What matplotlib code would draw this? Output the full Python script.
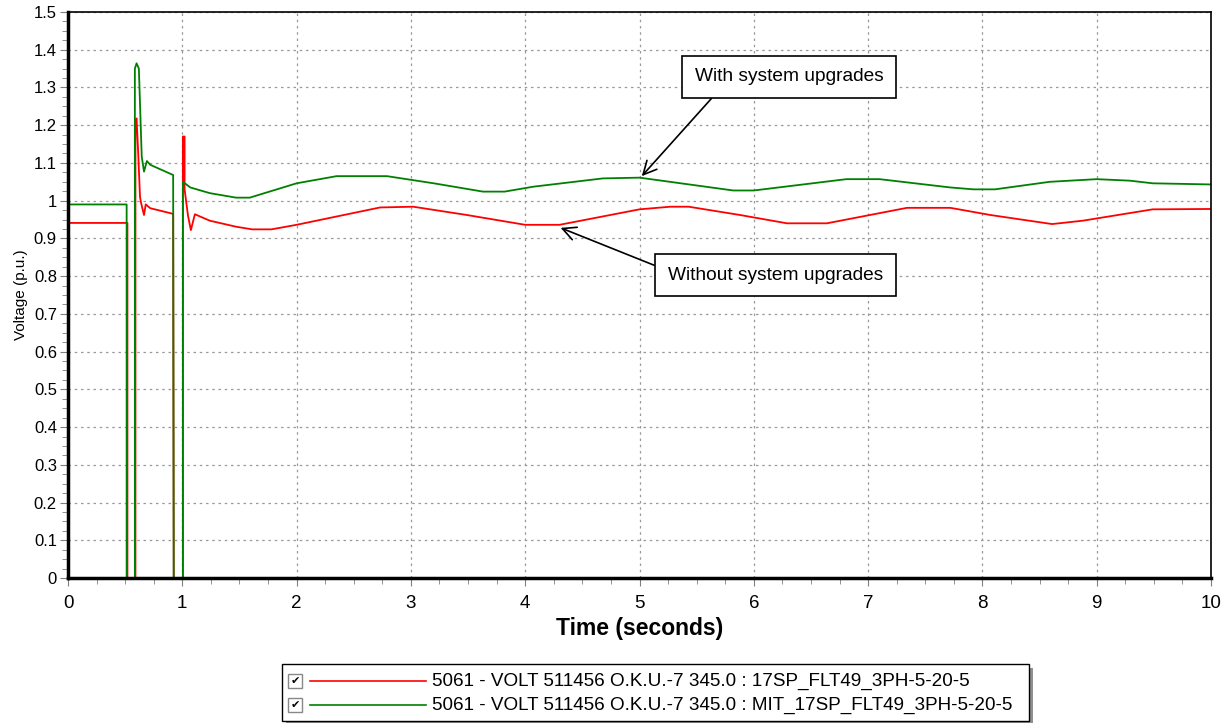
import matplotlib
matplotlib.use("Agg")
import matplotlib.pyplot as plt
from matplotlib.patches import Rectangle
from matplotlib.ticker import MultipleLocator

plt.rcParams['font.family'] = ['Liberation Sans', 'DejaVu Sans']

# Voltage traces (time in s, voltage in p.u.)
t_red = [0, 0.52, 0.52, 0.59, 0.59, 0.60, 0.615, 0.63, 0.64, 0.665, 0.68, 0.72, 0.92,
         0.925, 1.005, 1.005, 1.02, 1.02, 1.05, 1.075, 1.11, 1.24, 1.47, 1.61, 1.78,
         2.0, 2.73, 3.02, 3.49, 4.0, 4.3, 5.0, 5.27, 5.43, 5.88, 6.29, 6.64, 7.34,
         7.72, 8.07, 8.61, 8.88, 9.49, 10.0]
v_red = [0.941, 0.941, 0, 0, 1.21, 1.218, 1.12, 1.01, 0.993, 0.962, 0.990, 0.98, 0.965,
         0, 0, 1.17, 1.17, 1.03, 0.96, 0.922, 0.964, 0.947, 0.931, 0.924, 0.924,
         0.936, 0.982, 0.984, 0.962, 0.936, 0.936, 0.977, 0.984, 0.984, 0.962, 0.940,
         0.940, 0.981, 0.981, 0.962, 0.938, 0.947, 0.977, 0.978]

t_green = [0, 0.513, 0.513, 0.585, 0.585, 0.60, 0.62, 0.645, 0.665, 0.69, 0.72, 0.92,
           0.925, 1.005, 1.005, 1.07, 1.24, 1.47, 1.59, 2.0, 2.35, 2.79, 3.2, 3.63,
           3.82, 4.07, 4.68, 5.0, 5.82, 6.0, 6.81, 7.1, 7.72, 7.92, 8.11, 8.59, 9.0,
           9.29, 9.49, 10.0]
v_green = [0.99, 0.99, 0, 0, 1.35, 1.364, 1.35, 1.117, 1.077, 1.105, 1.095, 1.068,
           0, 0, 1.05, 1.035, 1.02, 1.008, 1.008, 1.046, 1.065, 1.065, 1.046, 1.024,
           1.024, 1.037, 1.059, 1.061, 1.027, 1.027, 1.057, 1.057, 1.035, 1.030,
           1.030, 1.050, 1.057, 1.053, 1.046, 1.043]

legend_labels = [
    "5061 - VOLT 511456 O.K.U.-7 345.0 : 17SP_FLT49_3PH-5-20-5",
    "5061 - VOLT 511456 O.K.U.-7 345.0 : MIT_17SP_FLT49_3PH-5-20-5",
]
line_colors = ["#ff0000", "#008000"]

fig = plt.figure(figsize=(12.31, 7.23), dpi=100)
ax = fig.add_axes([68 / 1231, 1 - 578 / 723, (1211 - 68) / 1231, (578 - 12) / 723])

ax.plot(t_red, v_red, color=line_colors[0], lw=1.3)
ax.plot(t_green, v_green, color=line_colors[1], lw=1.3)

ax.set_xlim(0, 10)
ax.set_ylim(0, 1.5)
ax.xaxis.set_major_locator(MultipleLocator(1))
ax.xaxis.set_minor_locator(MultipleLocator(0.25))
ax.yaxis.set_minor_locator(MultipleLocator(0.025))
ax.set_yticks([i / 10 for i in range(16)])
ax.set_yticklabels(["0", "0.1", "0.2", "0.3", "0.4", "0.5", "0.6", "0.7", "0.8",
                    "0.9", "1", "1.1", "1.2", "1.3", "1.4", "1.5"])
ax.tick_params(axis='x', which='major', labelsize=13.5, length=6, color='#808080', pad=6)
ax.tick_params(axis='y', which='major', labelsize=12, length=6, color='#808080', pad=2)
ax.tick_params(which='minor', length=4, color='#808080')
ax.grid(True, which='major', linestyle=(0, (2, 3)), color='#999999', lw=0.9)

for side in ['left', 'bottom']:
    ax.spines[side].set_linewidth(2.5)
for side in ['top', 'right']:
    ax.spines[side].set_linewidth(1.2)

ax.set_xlabel("Time (seconds)", fontsize=16.5, fontweight='bold', labelpad=4)
ax.set_ylabel("Voltage (p.u.)", fontsize=11, labelpad=4)

# Annotations
box = dict(boxstyle='square,pad=0.65', fc='white', ec='black', lw=1.2)
ax.annotate("With system upgrades", xy=(5.02, 1.065), xytext=(6.31, 1.328),
            fontsize=13.8, ha='center', va='center', bbox=box,
            arrowprops=dict(arrowstyle='->', color='black', lw=1.2,
                            mutation_scale=24, shrinkA=0, shrinkB=0,
                            relpos=(0.15, 0.0)))
ax.annotate("Without system upgrades", xy=(4.31, 0.928), xytext=(6.19, 0.803),
            fontsize=13.8, ha='center', va='center', bbox=box,
            arrowprops=dict(arrowstyle='->', color='black', lw=1.2,
                            mutation_scale=24, shrinkA=0, shrinkB=0,
                            relpos=(0.0, 0.75)))

# Legend drawn by hand in pixel-based figure coords
W, H = 1231, 723


def fx(px):
    return px / W


def fy(py):
    return 1 - py / H


fig.patches.append(Rectangle((fx(286), fy(725)), fx(1033) - fx(286), fy(668) - fy(725),
                             transform=fig.transFigure, fc='#909090', ec='none'))
fig.patches.append(Rectangle((fx(282), fy(721)), fx(1029) - fx(282), fy(664) - fy(721),
                             transform=fig.transFigure, fc='white', ec='black', lw=1.0))
for i, (label, col) in enumerate(zip(legend_labels, line_colors)):
    yc = 681 + i * 24
    fig.patches.append(Rectangle((fx(288), fy(yc + 7)), fx(14) - fx(0), fy(0) - fy(14),
                                 transform=fig.transFigure, fc='white', ec='#888888', lw=1.0))
    fig.text(fx(295), fy(yc), "\u2714", fontsize=8, ha='center', va='center',
             family=['DejaVu Sans'])
    fig.lines.append(plt.Line2D([fx(310), fx(426)], [fy(yc), fy(yc)],
                                transform=fig.transFigure, color=col, lw=1.2))
    fig.text(fx(432), fy(yc), label, fontsize=13.6, ha='left', va='center')

fig.savefig("out.png", dpi=100)
